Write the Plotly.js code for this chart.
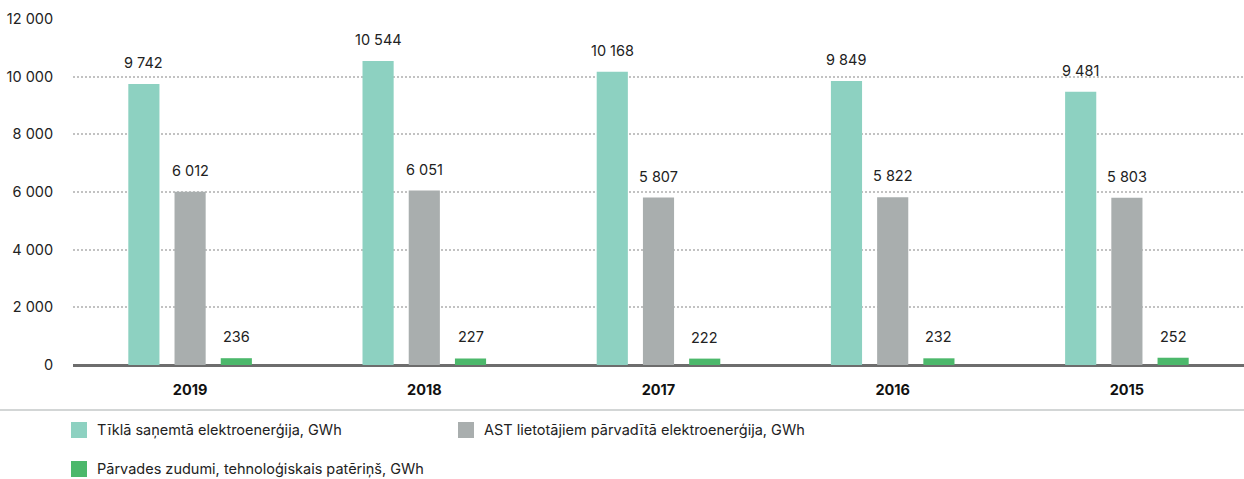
<!DOCTYPE html>
<html>
<head>
<meta charset="utf-8">
<script src="https://cdn.plot.ly/plotly-3.0.1.min.js"></script>
<style>html,body{margin:0;padding:0;background:#fff}#chart{width:1244px;height:479px}</style>
</head>
<body>
<div id="chart"></div>
<script>
const years = ['2019', '2018', '2017', '2016', '2015'];
const received = [9742, 10544, 10168, 9849, 9481];
const transmitted = [6012, 6051, 5807, 5822, 5803];
const losses = [236, 227, 222, 232, 252];
const seriesNames = [
  'Tīklā saņemtā elektroenerģija, GWh',
  'AST lietotājiem pārvadītā elektroenerģija, GWh',
  'Pārvades zudumi, tehnoloģiskais patēriņš, GWh'
];
const seriesColors = ['#8dd1c1', '#a9aeae', '#4cb86b'];
const yTicks = [0, 2000, 4000, 6000, 8000, 10000, 12000];

const W = 1244, H = 479;
const margin = {l: 73, r: 0, t: 19, b: 114};
const bargap = 0.408, bargroupgap = 0.326;
const FONT = 'Inter, "Open Sans", sans-serif';

const seriesValues = [received, transmitted, losses];
const traces = seriesValues.map((vals, i) => ({
  type: 'bar', x: years, y: vals, name: seriesNames[i],
  marker: {color: seriesColors[i]}, hoverinfo: 'skip', showlegend: false
}));

function fmt(v) { return String(v).replace(/\B(?=(\d{3})+(?!\d))/g, ' '); }

const plotW = W - margin.l - margin.r;
const plotH = H - margin.t - margin.b;
const catW = plotW / years.length;
const slot = catW * (1 - bargap) / seriesValues.length;

const annotations = [];
seriesValues.forEach((vals, i) => {
  vals.forEach((v, j) => {
    annotations.push({
      x: j, y: v, xref: 'x', yref: 'y', text: fmt(v), showarrow: false,
      xanchor: 'center', yanchor: 'bottom', yshift: 11,
      xshift: (i - (seriesValues.length - 1) / 2) * slot,
      font: {family: FONT, size: 14.5, color: '#222'}
    });
  });
});

// legend (manual)
const legendPos = [[71, 430], [458, 430], [71, 469]];
const px2x = px => (px - margin.l) / plotW;
const px2y = py => (H - margin.b - py) / plotH;
const shapes = [{
  type: 'line', xref: 'paper', yref: 'paper',
  x0: px2x(0), x1: px2x(W), y0: px2y(410), y1: px2y(410),
  line: {color: '#c4c8c8', width: 1.5}
}];
seriesNames.forEach((name, i) => {
  const [lx, ly] = legendPos[i];
  shapes.push({
    type: 'rect', xref: 'paper', yref: 'paper',
    x0: px2x(lx), x1: px2x(lx + 16), y0: px2y(ly + 8), y1: px2y(ly - 8),
    fillcolor: seriesColors[i], line: {width: 0}
  });
  annotations.push({
    xref: 'paper', yref: 'paper', x: px2x(lx + 24), y: px2y(ly),
    xanchor: 'left', yanchor: 'middle', showarrow: false, text: name,
    font: {family: FONT, size: 14.5, color: '#222'}
  });
});

const layout = {
  width: W, height: H, margin: margin,
  paper_bgcolor: '#fff', plot_bgcolor: '#fff',
  barmode: 'group', bargap: bargap, bargroupgap: bargroupgap,
  separators: ', ',
  font: {family: FONT, size: 14.5, color: '#222'},
  xaxis: {
    type: 'category', range: [-0.5, years.length - 0.5], autorange: false,
    showgrid: false, showline: false, zeroline: false,
    ticks: 'outside', ticklen: 12, tickcolor: 'rgba(0,0,0,0)',
    tickfont: {family: FONT, size: 14.5, color: '#111', weight: 'bold'}
  },
  yaxis: {
    range: [0, 12000], autorange: false, tickvals: yTicks, ticktext: yTicks.map(fmt),
    showgrid: true, gridcolor: '#c2c2c2', griddash: '2px,2px', gridwidth: 2,
    zeroline: true, zerolinecolor: '#6d6d6d', zerolinewidth: 3,
    showline: false, ticks: 'outside', ticklen: 16, tickcolor: 'rgba(0,0,0,0)',
    tickfont: {family: FONT, size: 14.5, color: '#222'}
  },
  showlegend: false,
  annotations: annotations,
  shapes: shapes
};

Plotly.newPlot('chart', traces, layout, {displayModeBar: false, staticPlot: true});
</script>
</body>
</html>
